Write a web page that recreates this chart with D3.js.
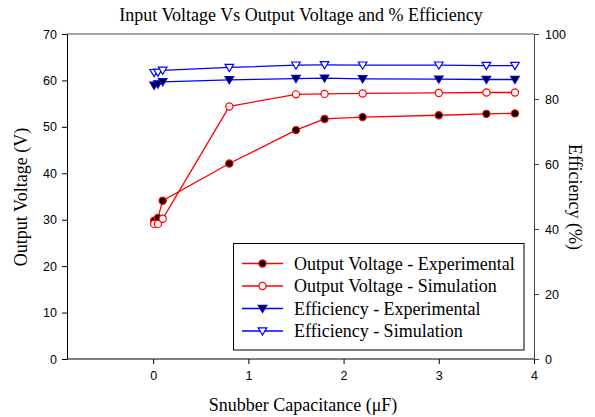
<!DOCTYPE html>
<meta charset="utf-8">
<head>
	<script src="https://d3js.org/d3.v7.min.js"></script>
	<style>
		body { margin: 0; background: #fff; }
		.tick text { font-family: "Liberation Sans", Arial, sans-serif; font-size: 12.5px; fill: #000; }
		.title, .axis-title, .legend text { font-family: "Liberation Serif", "Times New Roman", serif; fill: #000; }
	</style>
</head>
<body>
	<div id="chart"></div>
</body>
<script>
	// capacitance (uF)
	var cap = [0.01, 0.05, 0.1, 0.8, 1.5, 1.8, 2.2, 3.0, 3.5, 3.8];
	var voltExp = [29.8, 30.4, 34.1, 42.1, 49.3, 51.7, 52.1, 52.5, 52.8, 52.9];
	var voltSim = [29.1, 29.1, 30.2, 54.4, 57.0, 57.1, 57.2, 57.3, 57.4, 57.4];
	var effExp = [84.2, 84.6, 85.3, 85.9, 86.3, 86.4, 86.2, 86.1, 86.0, 86.0];
	var effSim = [88.1, 88.2, 88.8, 89.7, 90.4, 90.5, 90.4, 90.4, 90.3, 90.3];
	var xTicks = [0, 1, 2, 3, 4];
	var voltTicks = [0, 10, 20, 30, 40, 50, 60, 70];
	var effTicks = [0, 20, 40, 60, 80, 100];

	var W = 595, H = 417;
	var plotL = 67, plotR = 534, plotT = 34, plotB = 359;

	var svg = d3.select("#chart").append("svg")
		.attr("width", W)
		.attr("height", H);

	var x = d3.scaleLinear().domain([-0.905, 4]).range([plotL, plotR]);
	var yV = d3.scaleLinear().domain([0, 70]).range([plotB, plotT]);
	var yE = d3.scaleLinear().domain([0, 100]).range([plotB, plotT]);

	// axes
	var xg = svg.append("g")
		.attr("transform", "translate(0," + plotB + ")")
		.call(d3.axisBottom(x).tickValues(xTicks).tickFormat(d3.format("d")).tickSizeInner(5).tickSizeOuter(0).tickPadding(7));
	xg.select(".domain").attr("d", "M" + plotL + ",0H" + plotR);

	svg.append("g")
		.attr("transform", "translate(" + plotL + ",0)")
		.call(d3.axisLeft(yV).tickValues(voltTicks).tickSizeInner(5).tickSizeOuter(0).tickPadding(5));

	var rg = svg.append("g")
		.attr("transform", "translate(" + plotR + ",0)")
		.call(d3.axisRight(yE).tickValues(effTicks).tickSizeInner(5).tickSizeOuter(0).tickPadding(6));
	rg.selectAll("line, path").attr("stroke", "#444");

	svg.append("line")
		.attr("x1", plotL).attr("x2", plotR)
		.attr("y1", plotT).attr("y2", plotT)
		.attr("stroke", "#444");

	svg.selectAll(".domain, .tick line").attr("stroke-width", 1);

	// titles
	svg.append("text").attr("class", "title")
		.attr("x", 301).attr("y", 21)
		.attr("text-anchor", "middle")
		.style("font-size", "18px")
		.text("Input Voltage Vs Output Voltage and % Efficiency");

	svg.append("text").attr("class", "axis-title")
		.attr("x", 303).attr("y", 411)
		.attr("text-anchor", "middle")
		.style("font-size", "18px")
		.text("Snubber Capacitance (\u03bcF)");

	svg.append("text").attr("class", "axis-title")
		.attr("transform", "translate(27,197)rotate(-90)")
		.attr("text-anchor", "middle")
		.style("font-size", "18px")
		.text("Output Voltage (V)");

	svg.append("text").attr("class", "axis-title")
		.attr("transform", "translate(569,197)rotate(90)")
		.attr("text-anchor", "middle")
		.style("font-size", "18px")
		.text("Efficiency (%)");

	var series = [
		{ name: "Output Voltage - Experimental", vals: voltExp, y: yV, color: "#ff0000", marker: "circle", fill: "#000" },
		{ name: "Output Voltage - Simulation", vals: voltSim, y: yV, color: "#ff0000", marker: "circle", fill: "#fff" },
		{ name: "Efficiency - Experimental", vals: effExp, y: yE, color: "#0000ff", marker: "tri", fill: "#000" },
		{ name: "Efficiency - Simulation", vals: effSim, y: yE, color: "#0000ff", marker: "tri", fill: "#fff" }
	];

	function drawMarker(g, s, cx, cy) {
		if (s.marker == "circle") {
			g.append("circle")
				.attr("cx", cx).attr("cy", cy).attr("r", 3.6)
				.attr("fill", s.fill)
				.attr("stroke", s.color)
				.attr("stroke-width", 1.2);
		} else {
			g.append("path")
				.attr("d", "M" + (cx - 4.3) + "," + (cy - 3.2) + "L" + (cx + 4.3) + "," + (cy - 3.2) + "L" + cx + "," + (cy + 4) + "Z")
				.attr("fill", s.fill)
				.attr("stroke", s.color)
				.attr("stroke-width", 1.2);
		}
	}

	series.forEach(function(s) {
		var pts = cap.map(function(c, i) { return [x(c), s.y(s.vals[i])]; });
		svg.append("path")
			.attr("d", d3.line()(pts))
			.attr("fill", "none")
			.attr("stroke", s.color)
			.attr("stroke-width", 1.3);
		var g = svg.append("g");
		pts.forEach(function(p) { drawMarker(g, s, p[0], p[1]); });
	});

	// legend
	var legend = svg.append("g").attr("class", "legend");
	legend.append("rect")
		.attr("x", 233.5).attr("y", 243.5)
		.attr("width", 290.5).attr("height", 106.5)
		.attr("fill", "#fff")
		.attr("stroke", "#000");

	series.forEach(function(s, i) {
		var ly = 263.5 + i * 22.5;
		legend.append("line")
			.attr("x1", 242).attr("x2", 283)
			.attr("y1", ly).attr("y2", ly)
			.attr("stroke", s.color)
			.attr("stroke-width", 1.3);
		drawMarker(legend, s, 262.5, ly);
		legend.append("text")
			.attr("x", 294).attr("y", ly + 6)
			.style("font-size", "18px")
			.text(s.name);
	});
</script>
